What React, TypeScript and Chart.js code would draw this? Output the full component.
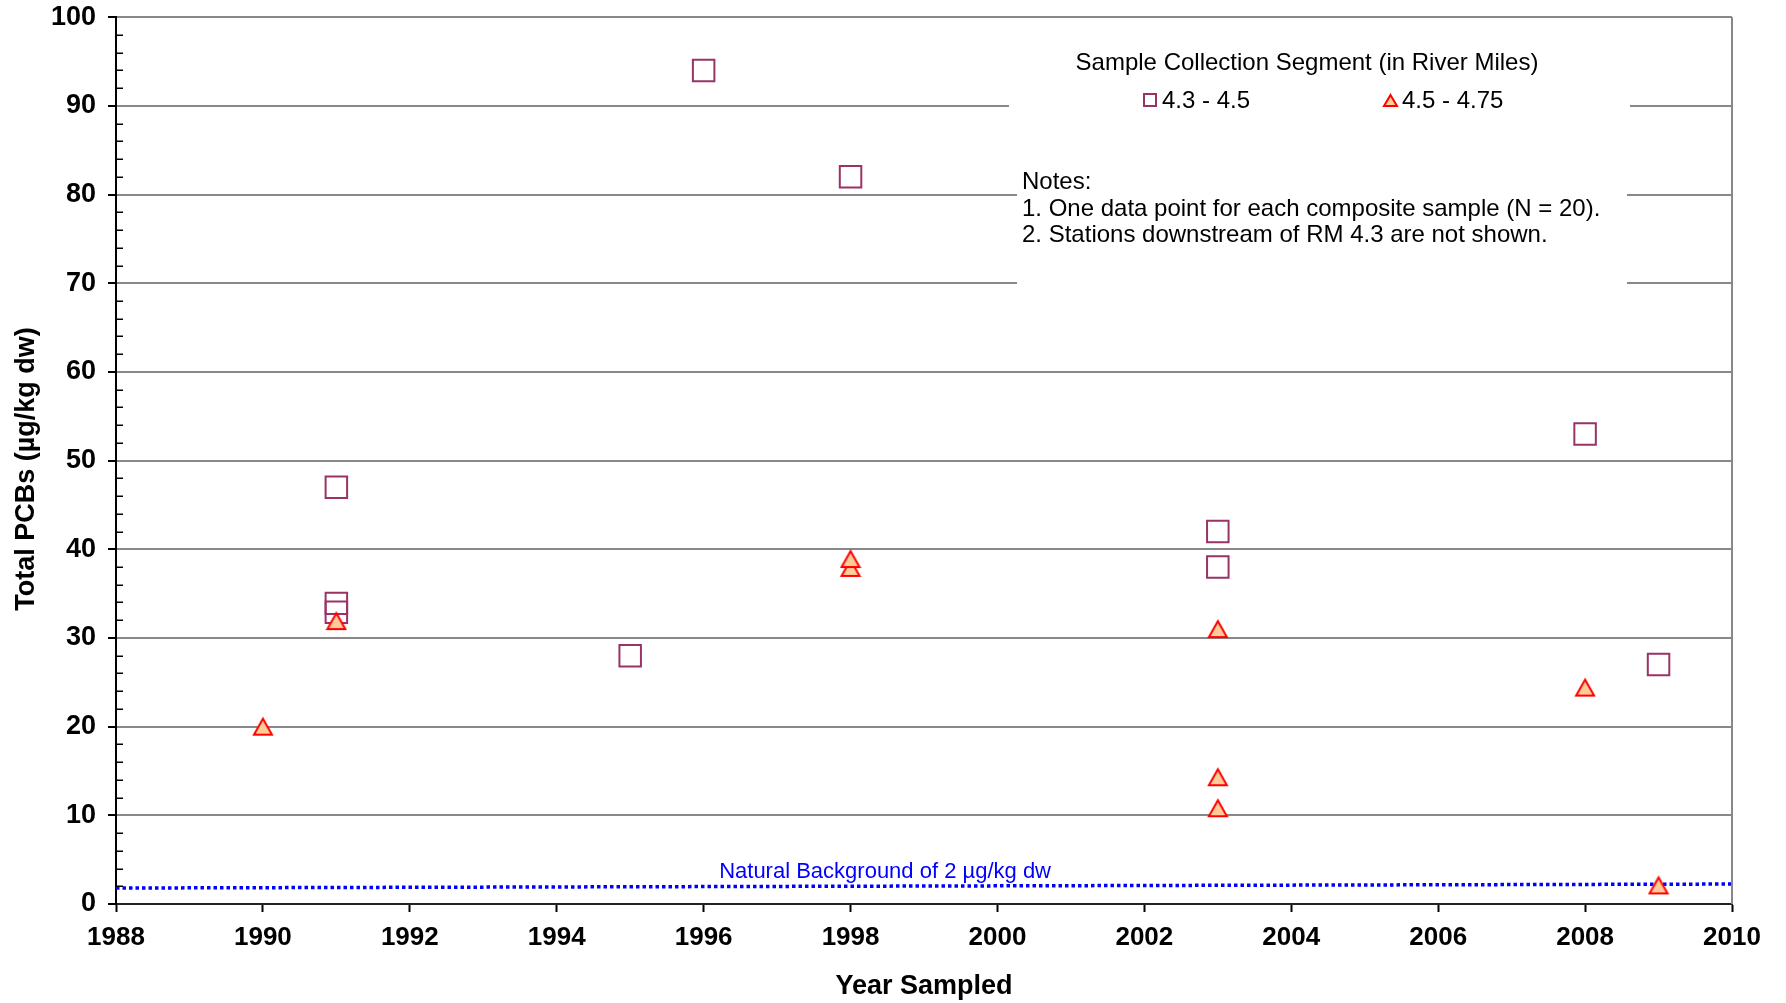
import React, { useEffect, useRef } from 'react';
import { Chart, registerables } from 'chart.js';

Chart.register(...registerables);

// ---------- data ----------
const squareYears = [1991, 1991, 1991, 1995, 1996, 1998, 2003, 2003, 2008, 2009];
const squareValues = [47, 33.9, 32.9, 28, 94, 82, 42, 38, 53, 27];
const triangleYears = [1990, 1991, 1998, 1998, 2003, 2003, 2003, 2008, 2009];
const triangleValues = [20, 31.9, 37.9, 38.9, 31, 14.3, 10.8, 24.4, 2.1];
const backgroundYears = [1988, 2010];
const backgroundValues = [1.8, 2.25];
const seriesLabels = ['4.3 - 4.5', '4.5 - 4.75'];
const legendTitle = 'Sample Collection Segment (in River Miles)';
const notesLines = [
  'Notes:',
  '1. One data point for each composite sample (N = 20).',
  '2. Stations downstream of RM 4.3 are not shown.',
];
const backgroundLabel = 'Natural Background of 2 \u00b5g/kg dw';
const xAxisTitle = 'Year Sampled';
const yAxisTitle = 'Total PCBs (\u00b5g/kg dw)';

const FONT = '"Liberation Sans", Arial, sans-serif';
const SQUARE_COLOR = '#993366';
const TRI_BORDER = '#FF0000';
const TRI_FILL = '#FFCC99';
const GRID = '#888888';

// triangle marker centred on its bounding box (as in the source chart)
function makeTriangleMarker(): HTMLCanvasElement {
  const c = document.createElement('canvas');
  c.width = 22;
  c.height = 22;
  const g = c.getContext('2d')!;
  g.beginPath();
  g.moveTo(11, 3);
  g.lineTo(20, 19);
  g.lineTo(2, 19);
  g.closePath();
  g.fillStyle = TRI_FILL;
  g.fill();
  g.lineWidth = 2;
  g.lineJoin = 'miter';
  g.strokeStyle = TRI_BORDER;
  g.stroke();
  return c;
}

const overlayPlugin = {
  id: 'overlay',
  beforeDatasetsDraw(chart: any) {
    const ctx = chart.ctx;
    ctx.save();
    ctx.fillStyle = '#ffffff';
    ctx.fillRect(1009, 19, 621, 121);
    ctx.fillRect(1017, 140, 610, 160);
    ctx.restore();
  },
  afterDraw(chart: any) {
    const ctx = chart.ctx;
    const { left, right, top, bottom } = chart.chartArea;
    const yScale = chart.scales.y;
    const xScale = chart.scales.x;
    ctx.save();
    // right border
    ctx.strokeStyle = GRID;
    ctx.lineWidth = 2;
    ctx.beginPath();
    ctx.moveTo(right, top);
    ctx.lineTo(right, bottom);
    ctx.stroke();
    // minor ticks on y axis (inside)
    ctx.strokeStyle = '#000';
    ctx.lineWidth = 1.5;
    for (let v = 2; v < 100; v += 2) {
      if (v % 10 === 0) continue;
      const y = Math.round(yScale.getPixelForValue(v)) + 0.25;
      ctx.beginPath();
      ctx.moveTo(left, y);
      ctx.lineTo(left + 7, y);
      ctx.stroke();
    }
    // y axis title
    ctx.save();
    ctx.translate(27, 469);
    ctx.rotate(-Math.PI / 2);
    ctx.fillStyle = '#000';
    ctx.font = `bold 27px ${FONT}`;
    ctx.textAlign = 'center';
    ctx.textBaseline = 'middle';
    ctx.fillText(yAxisTitle, 0, 0);
    ctx.restore();
    // legend title
    ctx.fillStyle = '#000';
    ctx.font = `24px ${FONT}`;
    ctx.textBaseline = 'alphabetic';
    ctx.textAlign = 'center';
    ctx.fillText(legendTitle, 1307, 70);
    // legend items
    ctx.textAlign = 'left';
    ctx.strokeStyle = SQUARE_COLOR;
    ctx.lineWidth = 2;
    ctx.strokeRect(1144, 94, 12, 12);
    ctx.fillText(seriesLabels[0], 1162, 108);
    ctx.beginPath();
    ctx.moveTo(1390.5, 95);
    ctx.lineTo(1397, 106);
    ctx.lineTo(1384, 106);
    ctx.closePath();
    ctx.fillStyle = TRI_FILL;
    ctx.fill();
    ctx.strokeStyle = TRI_BORDER;
    ctx.stroke();
    ctx.fillStyle = '#000';
    ctx.fillText(seriesLabels[1], 1402, 108);
    // notes
    const baselines = [189, 216, 242];
    notesLines.forEach((t, i) => ctx.fillText(t, 1022, baselines[i]));
    // background label
    ctx.fillStyle = '#0000FF';
    ctx.font = `22px ${FONT}`;
    ctx.textAlign = 'center';
    ctx.fillText(backgroundLabel, xScale.getPixelForValue(1998.47), yScale.getPixelForValue(2) - 8);
    ctx.restore();
  },
};

export default function App() {
  const canvasRef = useRef<HTMLCanvasElement | null>(null);

  useEffect(() => {
    document.body.style.margin = '0';
    const canvas = canvasRef.current;
    if (!canvas) return;
    const triMarker = makeTriangleMarker();
    const chart = new Chart(canvas, {
      type: 'scatter',
      data: {
        datasets: [
          {
            label: seriesLabels[1],
            data: triangleYears.map((x, i) => ({ x, y: triangleValues[i] })),
            pointStyle: triMarker,
            pointRadius: 10,
            borderColor: TRI_BORDER,
            backgroundColor: TRI_FILL,
            order: 0,
          },
          {
            label: seriesLabels[0],
            data: squareYears.map((x, i) => ({ x, y: squareValues[i] })),
            pointStyle: 'rect',
            pointRadius: 15.2,
            pointBorderWidth: 2,
            borderColor: SQUARE_COLOR,
            backgroundColor: 'rgba(0,0,0,0)',
            order: 1,
          },
          {
            type: 'line',
            label: 'Natural Background',
            data: backgroundYears.map((x, i) => ({ x, y: backgroundValues[i] })),
            borderColor: '#0000FF',
            borderWidth: 3.5,
            borderDash: [3.5, 3],
            pointRadius: 0,
            showLine: true,
            fill: false,
            order: 2,
          } as any,
        ],
      },
      options: {
        animation: false,
        responsive: false,
        devicePixelRatio: 1,
        layout: { padding: { top: 16, right: 54, left: 0, bottom: 0 } },
        plugins: {
          legend: { display: false },
          tooltip: { enabled: false },
          title: { display: false },
        },
        scales: {
          x: {
            type: 'linear',
            min: 1988,
            max: 2010,
            afterFit: (s: any) => {
              s.height = 99;
              s.paddingLeft = 0;
              s.paddingRight = 0;
            },
            ticks: {
              stepSize: 2,
              padding: 10,
              color: '#000',
              font: { family: FONT, size: 26, weight: 'bold' },
              callback: (v: any) => String(v),
            },
            grid: {
              display: true,
              drawOnChartArea: false,
              drawTicks: true,
              tickLength: 8,
              tickColor: '#000',
              tickWidth: 2,
            },
            border: { display: true, color: '#222', width: 2 },
            title: {
              display: true,
              text: xAxisTitle,
              color: '#000',
              font: { family: FONT, size: 27, weight: 'bold' },
              padding: { top: 0, bottom: 0 },
              align: 'center',
            },
          },
          y: {
            type: 'linear',
            min: 0,
            max: 100,
            afterFit: (s: any) => {
              s.width = 116;
              s.paddingTop = 0;
              s.paddingBottom = 0;
            },
            ticks: {
              stepSize: 10,
              padding: 12,
              color: '#000',
              font: { family: FONT, size: 27, weight: 'bold' },
            },
            grid: {
              color: (c: any) => (c.tick && c.tick.value === 0 ? 'rgba(0,0,0,0)' : GRID),
              lineWidth: 2,
              tickLength: 8,
              tickColor: '#000',
              tickWidth: 2,
            },
            border: { display: true, color: '#000', width: 2 },
            title: { display: false },
          },
        },
      },
      plugins: [overlayPlugin],
    } as any);
    return () => chart.destroy();
  }, []);

  return (
    <div style={{ width: 1786, height: 1003 }}>
      <canvas ref={canvasRef} width={1786} height={1003} style={{ display: 'block' }} />
    </div>
  );
}
